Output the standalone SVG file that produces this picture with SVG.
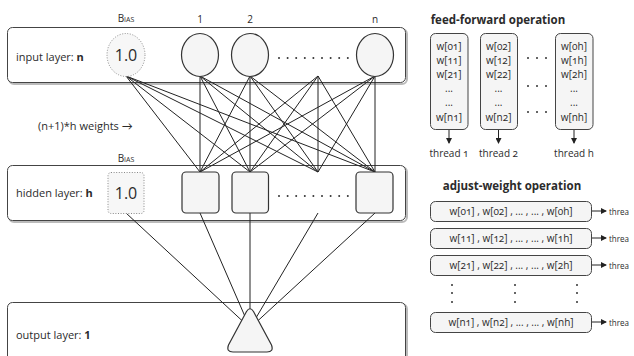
<svg xmlns="http://www.w3.org/2000/svg" width="634" height="356" viewBox="0 0 634 356">
  <style>
    text { font-family: "Open Sans", "Lato", "Liberation Sans", sans-serif; fill: #2b2b2b; }
    .lbl { font-size: 11px; }
    .bias { font-size: 10px; font-variant: small-caps; text-anchor: middle; }
    .idx { font-size: 10px; text-anchor: middle; }
    .one { font-size: 16px; text-anchor: middle; }
    .w { font-size: 10px; text-anchor: middle; font-variant-numeric: oldstyle-nums; }
    .thr { font-size: 9.5px; text-anchor: start; }
    .title { font-size: 11.5px; font-weight: bold; text-anchor: middle; }
    .layer { fill: #ffffff; stroke: #444; stroke-width: 1; }
    .shadow { fill: none; stroke: #bbb; stroke-width: 2; }
    .node { fill: #f5f5f5; stroke: #333; stroke-width: 1.2; }
    .biasnode { fill: #f7f7f7; stroke: #888; stroke-width: 1; stroke-dasharray: 1 1.6; }
    .wire { stroke: #222; stroke-width: 1; fill: none; }
    .card { fill: #f5f5f5; stroke: #444; stroke-width: 1; }
    .dot { fill: #333; }
  </style>
  <defs>
    <marker id="arrow" markerWidth="6" markerHeight="6" refX="5" refY="3" orient="auto" markerUnits="userSpaceOnUse">
      <path d="M0,0 L6,3 L0,6 z" fill="#222"/>
    </marker>
  </defs>

  <!-- layer panels -->
  <g id="input-layer">
    <rect class="shadow" x="9" y="29" width="398" height="55" rx="5"/>
    <rect class="layer" x="7.5" y="27.5" width="398" height="55" rx="5"/>
    <text class="lbl" x="16" y="61">input layer: <tspan font-weight="bold">n</tspan></text>
  </g>
  <g id="hidden-layer">
    <rect class="shadow" x="9" y="167" width="398" height="55" rx="5"/>
    <rect class="layer" x="7.5" y="165.5" width="398" height="55" rx="5"/>
    <text class="lbl" x="16" y="197">hidden layer: <tspan font-weight="bold">h</tspan></text>
  </g>
  <g id="output-layer">
    <rect class="shadow" x="9" y="304" width="398" height="70" rx="5"/>
    <rect class="layer" x="7.5" y="302.5" width="398" height="70" rx="5"/>
    <text class="lbl" x="16" y="339">output layer: <tspan font-weight="bold" font-variant-numeric="oldstyle-nums">1</tspan></text>
  </g>

  <!-- connectors -->
  <g id="connectors">
    <!-- input -> hidden (bias, 1, 2, ..., n) x (1, 2, ..., h) -->
    <path class="wire" d="
      M126,76 L200,172 M126,76 L250,172 M126,76 L318,172 M126,76 L375,172
      M200,76 L200,172 M200,76 L250,172 M200,76 L318,172 M200,76 L375,172
      M250,76 L200,172 M250,76 L250,172 M250,76 L318,172 M250,76 L375,172
      M318,76 L200,172 M318,76 L250,172 M318,76 L318,172 M318,76 L375,172
      M375,76 L200,172 M375,76 L250,172 M375,76 L318,172 M375,76 L375,172"/>
    <!-- hidden -> output -->
    <path class="wire" d="
      M126,213 L250,328 M200,213 L250,328 M250,213 L250,328
      M318,213 L250,328 M375,213 L250,328"/>
    <!-- feed-forward thread arrows -->
    <path class="wire" marker-end="url(#arrow)" d="M449,130 L449,143"/>
    <path class="wire" marker-end="url(#arrow)" d="M498.5,130 L498.5,143"/>
    <path class="wire" marker-end="url(#arrow)" d="M574,130 L574,143"/>
    <!-- adjust-weight thread arrows -->
    <path class="wire" marker-end="url(#arrow)" d="M592,211 L606,211"/>
    <path class="wire" marker-end="url(#arrow)" d="M592,238 L606,238"/>
    <path class="wire" marker-end="url(#arrow)" d="M592,265 L606,265"/>
    <path class="wire" marker-end="url(#arrow)" d="M592,322 L606,322"/>
  </g>

  <!-- input nodes -->
  <g id="input-bias">
    <text class="bias" x="126" y="22">Bias</text>
    <ellipse class="biasnode" cx="126" cy="55" rx="19" ry="21.5"/>
    <text class="one" x="126" y="61">1.0</text>
  </g>
  <g id="input-1">
    <text class="idx" x="200" y="23">1</text>
    <ellipse class="node" cx="200" cy="55" rx="18.5" ry="21.5"/>
  </g>
  <g id="input-2">
    <text class="idx" x="250" y="23">2</text>
    <ellipse class="node" cx="250" cy="55" rx="18.5" ry="21.5"/>
  </g>
  <g id="input-dots">
    <circle class="dot" cx="279" cy="58" r="1"/><circle class="dot" cx="287.6" cy="58" r="1"/>
    <circle class="dot" cx="296.2" cy="58" r="1"/><circle class="dot" cx="304.8" cy="58" r="1"/>
    <circle class="dot" cx="313.4" cy="58" r="1"/><circle class="dot" cx="322" cy="58" r="1"/>
    <circle class="dot" cx="330.6" cy="58" r="1"/><circle class="dot" cx="339.2" cy="58" r="1"/>
    <circle class="dot" cx="347.8" cy="58" r="1"/>
  </g>
  <g id="input-n">
    <text class="idx" x="375" y="23">n</text>
    <ellipse class="node" cx="375" cy="55" rx="18.5" ry="21.5"/>
  </g>

  <text class="lbl" x="38" y="130">(n+1)*h weights  →</text>

  <!-- hidden nodes -->
  <g id="hidden-bias">
    <text class="bias" x="126" y="162">Bias</text>
    <rect class="biasnode" x="108" y="172.5" width="36" height="41" rx="3"/>
    <text class="one" x="126" y="199">1.0</text>
  </g>
  <g id="hidden-1"><rect class="node" x="182" y="172" width="37" height="41" rx="4"/></g>
  <g id="hidden-2"><rect class="node" x="232" y="172" width="36.5" height="41" rx="4"/></g>
  <g id="hidden-dots">
    <circle class="dot" cx="279" cy="196" r="1"/><circle class="dot" cx="287.6" cy="196" r="1"/>
    <circle class="dot" cx="296.2" cy="196" r="1"/><circle class="dot" cx="304.8" cy="196" r="1"/>
    <circle class="dot" cx="313.4" cy="196" r="1"/><circle class="dot" cx="322" cy="196" r="1"/>
    <circle class="dot" cx="330.6" cy="196" r="1"/><circle class="dot" cx="339.2" cy="196" r="1"/>
    <circle class="dot" cx="347.8" cy="196" r="1"/>
  </g>
  <g id="hidden-h"><rect class="node" x="356" y="172" width="37" height="41" rx="4"/></g>

  <!-- output node -->
  <g id="output-1">
    <path class="node" d="M246.5,311.5 Q250,306 253.5,311.5 L271.5,345 Q274,352 267,352 L233,352 Q226,352 228.5,345 Z"/>
  </g>

  <!-- feed-forward operation -->
  <text class="title" x="498" y="24">feed-forward operation</text>
  <g id="ff-col-1">
    <rect class="card" x="430.5" y="33.5" width="37.5" height="96" rx="5"/>
    <text class="w" x="449" y="50">w[01]</text>
    <text class="w" x="449" y="64">w[11]</text>
    <text class="w" x="449" y="78">w[21]</text>
    <text class="w" x="449" y="92">...</text>
    <text class="w" x="449" y="106">...</text>
    <text class="w" x="449" y="121">w[n1]</text>
    <text class="w" x="449" y="157">thread 1</text>
  </g>
  <g id="ff-col-2">
    <rect class="card" x="480.5" y="33.5" width="37" height="96" rx="5"/>
    <text class="w" x="498.5" y="50">w[02]</text>
    <text class="w" x="498.5" y="64">w[12]</text>
    <text class="w" x="498.5" y="78">w[22]</text>
    <text class="w" x="498.5" y="92">...</text>
    <text class="w" x="498.5" y="106">...</text>
    <text class="w" x="498.5" y="121">w[n2]</text>
    <text class="w" x="498.5" y="157">thread 2</text>
  </g>
  <g id="ff-dots">
    <circle class="dot" cx="528" cy="58" r="1"/><circle class="dot" cx="537" cy="58" r="1"/><circle class="dot" cx="546" cy="58" r="1"/>
    <circle class="dot" cx="528" cy="86" r="1"/><circle class="dot" cx="537" cy="86" r="1"/><circle class="dot" cx="546" cy="86" r="1"/>
    <circle class="dot" cx="528" cy="112" r="1"/><circle class="dot" cx="537" cy="112" r="1"/><circle class="dot" cx="546" cy="112" r="1"/>
  </g>
  <g id="ff-col-h">
    <rect class="card" x="555.5" y="33.5" width="37.5" height="96" rx="5"/>
    <text class="w" x="574" y="50">w[0h]</text>
    <text class="w" x="574" y="64">w[1h]</text>
    <text class="w" x="574" y="78">w[2h]</text>
    <text class="w" x="574" y="92">...</text>
    <text class="w" x="574" y="106">...</text>
    <text class="w" x="574" y="121">w[nh]</text>
    <text class="w" x="574" y="157">thread h</text>
  </g>

  <!-- adjust-weight operation -->
  <text class="title" x="512" y="190">adjust-weight operation</text>
  <g id="aw-row-0">
    <rect class="card" x="430.5" y="201.5" width="161" height="20" rx="5"/>
    <text class="w" x="511" y="215">w[01] , w[02] , ... , ... , w[0h]</text>
    <text class="thr" x="609" y="214.5" textLength="20" lengthAdjust="spacingAndGlyphs">threa</text>
  </g>
  <g id="aw-row-1">
    <rect class="card" x="430.5" y="228.5" width="161" height="20" rx="5"/>
    <text class="w" x="511" y="242">w[11] , w[12] , ... , ... , w[1h]</text>
    <text class="thr" x="609" y="241.5" textLength="20" lengthAdjust="spacingAndGlyphs">threa</text>
  </g>
  <g id="aw-row-2">
    <rect class="card" x="430.5" y="255.5" width="161" height="20" rx="5"/>
    <text class="w" x="511" y="269">w[21] , w[22] , ... , ... , w[2h]</text>
    <text class="thr" x="609" y="268.5" textLength="20" lengthAdjust="spacingAndGlyphs">threa</text>
  </g>
  <g id="aw-dots">
    <circle class="dot" cx="452" cy="285" r="1"/><circle class="dot" cx="452" cy="293" r="1"/><circle class="dot" cx="452" cy="302" r="1"/>
    <circle class="dot" cx="515" cy="285" r="1"/><circle class="dot" cx="515" cy="293" r="1"/><circle class="dot" cx="515" cy="302" r="1"/>
    <circle class="dot" cx="577" cy="285" r="1"/><circle class="dot" cx="577" cy="293" r="1"/><circle class="dot" cx="577" cy="302" r="1"/>
  </g>
  <g id="aw-row-n">
    <rect class="card" x="430.5" y="312.5" width="161" height="20" rx="5"/>
    <text class="w" x="511" y="326">w[n1] , w[n2] , ... , ... , w[nh]</text>
    <text class="thr" x="609" y="325.5" textLength="20" lengthAdjust="spacingAndGlyphs">threa</text>
  </g>
</svg>
